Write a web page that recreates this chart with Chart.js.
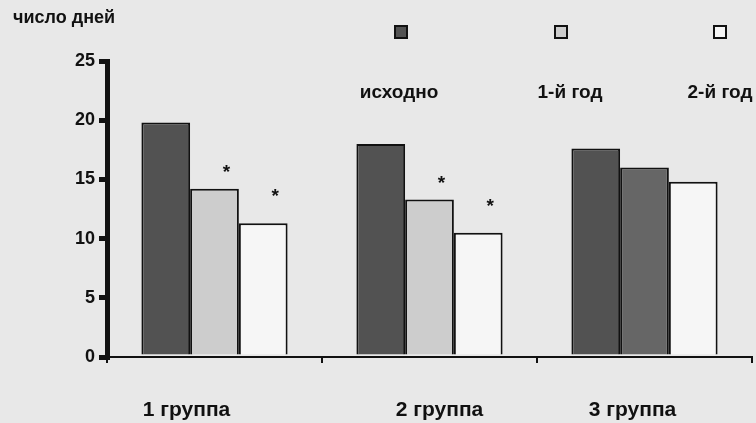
<!DOCTYPE html>
<html><head><meta charset="utf-8">
<script src="https://cdn.jsdelivr.net/npm/chart.js@4"></script>
<style>html,body{margin:0;padding:0;background:#e8e8e8;}canvas{display:block;}</style>
</head><body>
<canvas id="c" width="756" height="423"></canvas>
<script>
const categories = ['1 группа', '2 группа', '3 группа'];
const seriesNames = ['исходно', '1-й год', '2-й год'];
const baseline = [19.8, 18.0, 17.6];
const year1 = [14.2, 13.3, 16.0];
const year2 = [11.3, 10.5, 14.8];
const year1Stars = [true, true, false];
const year2Stars = [true, true, false];
const yTicks = [0, 5, 10, 15, 20, 25];
const yTitle = 'число дней';

const FONT = '"Liberation Sans", Arial, sans-serif';
const fills = ['#525252', '#cdcdcd', '#f6f6f6'];
const year1Fills = ['#cdcdcd', '#cdcdcd', '#666666'];
const catLabelShift = [-28, 10, -12];

const overlay = {
  id: 'overlay',
  afterDraw(chart) {
    const ctx = chart.ctx;
    ctx.save();
    ctx.fillStyle = '#111';
    ctx.font = 'bold 18px ' + FONT;
    ctx.textBaseline = 'middle';
    ctx.textAlign = 'left';
    ctx.fillText(yTitle, 13, 18);
    // legend
    const legX = [401, 561, 720];
    const legLabelX = [399, 570, 720];
    seriesNames.forEach((n, i) => {
      ctx.fillStyle = fills[i];
      ctx.fillRect(legX[i] - 6, 26, 12, 12);
      ctx.lineWidth = 2;
      ctx.strokeStyle = '#111';
      ctx.strokeRect(legX[i] - 6, 26, 12, 12);
      ctx.fillStyle = '#111';
      ctx.font = 'bold 19px ' + FONT;
      ctx.textAlign = 'center';
      ctx.fillText(n, legLabelX[i], 93);
    });
    // category labels
    const x = chart.scales.x;
    ctx.font = 'bold 21px ' + FONT;
    ctx.textAlign = 'center';
    categories.forEach((c, i) => {
      ctx.fillText(c, x.getPixelForValue(i) + catLabelShift[i], 410);
    });
    // stars
    const y = chart.scales.y;
    ctx.font = 'bold 19px ' + FONT;
    [[1, year1Stars, year1, 22], [2, year2Stars, year2, 32]].forEach(([di, stars, vals, off]) => {
      const meta = chart.getDatasetMeta(di);
      stars.forEach((s, k) => {
        if (!s) return;
        const bar = meta.data[k];
        ctx.fillText('*', bar.x + 12, y.getPixelForValue(vals[k]) - off + 6);
      });
    });
    ctx.restore();
  }
};

new Chart(document.getElementById('c'), {
  type: 'bar',
  data: {
    labels: categories,
    datasets: [
      { label: seriesNames[0], data: baseline, backgroundColor: fills[0] },
      { label: seriesNames[1], data: year1, backgroundColor: year1Fills },
      { label: seriesNames[2], data: year2, backgroundColor: fills[2] }
    ].map(d => Object.assign(d, { borderColor: '#111', borderWidth: 2, barPercentage: 1, categoryPercentage: 0.68 }))
  },
  options: {
    responsive: false,
    animation: false,
    devicePixelRatio: 1,
    layout: { padding: { top: 61, right: 4, left: 0, bottom: 0 } },
    plugins: { legend: { display: false }, tooltip: { enabled: false } },
    scales: {
      x: {
        afterFit(s) { s.height = 66; },
        border: { display: true, color: '#111', width: 2 },
        grid: { offset: true, drawOnChartArea: false, drawTicks: true, tickLength: 6, color: '#111', lineWidth: 2 },
        ticks: { display: false }
      },
      y: {
        min: 0, max: 25,
        afterFit(s) { s.width = 107; },
        afterBuildTicks(s) { s.ticks = yTicks.map(v => ({ value: v })); },
        border: { display: true, color: '#111', width: 5 },
        grid: { drawOnChartArea: false, drawTicks: true, tickLength: 8, color: '#111', lineWidth: 5 },
        ticks: { color: '#111', font: { family: FONT, size: 18, weight: 'bold' }, padding: 4 }
      }
    }
  },
  plugins: [overlay]
});
</script>
</body></html>
